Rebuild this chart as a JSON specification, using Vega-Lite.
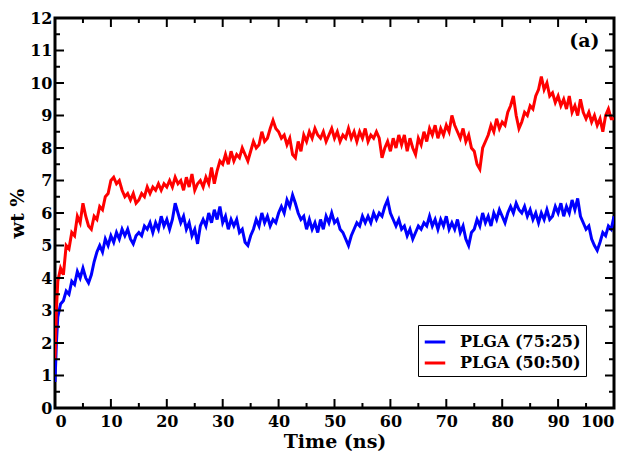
{
  "$schema": "https://vega.github.io/schema/vega-lite/v6.json",
  "width": 559,
  "height": 390,
  "autosize": "none",
  "padding": {"left": 55, "top": 18, "right": 16, "bottom": 45},
  "background": "white",
  "config": {
    "view": {"stroke": "black", "strokeWidth": 3},
    "axis": {
      "domain": false, "grid": false, "ticks": false, "labelOverlap": false,
      "labelFont": "DejaVu Serif", "labelFontWeight": "bold", "labelFontSize": 16, "labelColor": "black",
      "titleFont": "DejaVu Serif", "titleFontWeight": "bold", "titleFontSize": 19, "titleColor": "black"
    },
    "legend": {
      "orient": "none", "legendX": 363, "legendY": 307, "zindex": 2,
      "strokeColor": "black", "fillColor": "white", "padding": 5,
      "labelFont": "DejaVu Serif", "labelFontWeight": "bold", "labelFontSize": 16, "labelColor": "black",
      "symbolType": "stroke", "symbolStrokeWidth": 3, "symbolSize": 420, "rowPadding": 1, "labelOffset": 13
    }
  },
  "datasets": {
    "series": [
      {"t":0,"a":0.8,"b":1.5},{"t":0.25,"a":2.0,"b":3.0},{"t":0.5,"a":2.8,"b":3.9},{"t":1,"a":3.2,"b":4.3},{"t":1.5,"a":3.3,"b":4.1},
      {"t":2,"a":3.6,"b":5.0},{"t":2.5,"a":3.5,"b":4.9},{"t":3,"a":3.9,"b":5.4},{"t":3.5,"a":3.8,"b":5.3},{"t":4,"a":4.2,"b":5.9},
      {"t":4.5,"a":4.0,"b":5.7},{"t":5,"a":4.3,"b":6.3},{"t":5.5,"a":4.0,"b":5.9},{"t":6,"a":3.85,"b":5.6},{"t":6.5,"a":4.1,"b":5.5},
      {"t":7,"a":4.5,"b":5.9},{"t":7.5,"a":4.8,"b":5.8},{"t":8,"a":5.0,"b":6.2},{"t":8.5,"a":4.8,"b":6.1},{"t":9,"a":5.2,"b":6.5},
      {"t":9.5,"a":5.0,"b":6.6},{"t":10,"a":5.3,"b":7.0},{"t":10.5,"a":5.1,"b":7.1},{"t":11,"a":5.4,"b":6.9},{"t":11.5,"a":5.2,"b":7.0},
      {"t":12,"a":5.5,"b":6.7},{"t":12.5,"a":5.3,"b":6.5},{"t":13,"a":5.5,"b":6.6},{"t":13.5,"a":5.2,"b":6.4},{"t":14,"a":5.05,"b":6.6},
      {"t":14.5,"a":5.3,"b":6.3},{"t":15,"a":5.4,"b":6.4},{"t":15.5,"a":5.3,"b":6.6},{"t":16,"a":5.6,"b":6.5},{"t":16.5,"a":5.5,"b":6.8},
      {"t":17,"a":5.7,"b":6.6},{"t":17.5,"a":5.4,"b":6.8},{"t":18,"a":5.7,"b":6.7},{"t":18.5,"a":5.5,"b":6.9},{"t":19,"a":5.9,"b":6.7},
      {"t":19.5,"a":5.6,"b":6.9},{"t":20,"a":5.8,"b":6.8},{"t":20.5,"a":5.5,"b":7.0},{"t":21,"a":5.8,"b":6.8},{"t":21.5,"a":6.3,"b":7.1},
      {"t":22,"a":6.0,"b":6.9},{"t":22.5,"a":5.7,"b":7.0},{"t":23,"a":5.9,"b":6.7},{"t":23.5,"a":5.5,"b":7.1},{"t":24,"a":5.7,"b":6.8},
      {"t":24.5,"a":5.3,"b":7.2},{"t":25,"a":5.5,"b":6.7},{"t":25.5,"a":5.05,"b":6.9},{"t":26,"a":5.6,"b":7.0},{"t":26.5,"a":5.8,"b":6.8},
      {"t":27,"a":5.6,"b":7.1},{"t":27.5,"a":6.0,"b":6.9},{"t":28,"a":5.7,"b":7.4},{"t":28.5,"a":6.1,"b":6.9},{"t":29,"a":5.8,"b":7.3},
      {"t":29.5,"a":6.2,"b":7.6},{"t":30,"a":5.7,"b":7.5},{"t":30.5,"a":5.9,"b":7.8},{"t":31,"a":5.5,"b":7.5},{"t":31.5,"a":5.8,"b":7.9},
      {"t":32,"a":5.6,"b":7.6},{"t":32.5,"a":5.8,"b":7.8},{"t":33,"a":5.4,"b":7.7},{"t":33.5,"a":5.5,"b":8.0},{"t":34,"a":5.1,"b":7.8},
      {"t":34.5,"a":5.0,"b":7.6},{"t":35,"a":5.3,"b":7.9},{"t":35.5,"a":5.5,"b":8.2},{"t":36,"a":5.8,"b":8.0},{"t":36.5,"a":5.6,"b":8.1},
      {"t":37,"a":6.0,"b":8.5},{"t":37.5,"a":5.7,"b":8.2},{"t":38,"a":5.9,"b":8.3},{"t":38.5,"a":5.6,"b":8.6},{"t":39,"a":5.8,"b":8.85},
      {"t":39.5,"a":5.7,"b":8.6},{"t":40,"a":6.0,"b":8.5},{"t":40.5,"a":6.2,"b":8.3},{"t":41,"a":6.0,"b":8.4},{"t":41.5,"a":6.4,"b":8.1},
      {"t":42,"a":6.2,"b":8.3},{"t":42.5,"a":6.55,"b":7.8},{"t":43,"a":6.3,"b":7.7},{"t":43.5,"a":6.0,"b":8.2},{"t":44,"a":5.8,"b":7.9},
      {"t":44.5,"a":5.9,"b":8.4},{"t":45,"a":5.5,"b":8.2},{"t":45.5,"a":5.8,"b":8.5},{"t":46,"a":5.5,"b":8.3},{"t":46.5,"a":5.7,"b":8.6},
      {"t":47,"a":5.4,"b":8.4},{"t":47.5,"a":5.8,"b":8.3},{"t":48,"a":5.5,"b":8.5},{"t":48.5,"a":5.9,"b":8.2},{"t":49,"a":5.7,"b":8.4},
      {"t":49.5,"a":6.0,"b":8.6},{"t":50,"a":5.7,"b":8.3},{"t":50.5,"a":5.8,"b":8.5},{"t":51,"a":5.5,"b":8.2},{"t":51.5,"a":5.4,"b":8.4},
      {"t":52,"a":5.2,"b":8.3},{"t":52.5,"a":5.0,"b":8.6},{"t":53,"a":5.3,"b":8.3},{"t":53.5,"a":5.5,"b":8.5},{"t":54,"a":5.7,"b":8.2},
      {"t":54.5,"a":5.6,"b":8.5},{"t":55,"a":5.9,"b":8.3},{"t":55.5,"a":5.7,"b":8.6},{"t":56,"a":5.9,"b":8.2},{"t":56.5,"a":5.7,"b":8.4},
      {"t":57,"a":6.0,"b":8.3},{"t":57.5,"a":5.8,"b":8.5},{"t":58,"a":6.0,"b":8.3},{"t":58.5,"a":5.9,"b":7.7},{"t":59,"a":6.2,"b":8.0},
      {"t":59.5,"a":6.4,"b":8.2},{"t":60,"a":6.0,"b":7.9},{"t":60.5,"a":5.8,"b":8.3},{"t":61,"a":5.6,"b":8.0},{"t":61.5,"a":5.8,"b":8.4},
      {"t":62,"a":5.5,"b":8.1},{"t":62.5,"a":5.6,"b":8.4},{"t":63,"a":5.3,"b":7.9},{"t":63.5,"a":5.5,"b":8.3},{"t":64,"a":5.2,"b":8.0},
      {"t":64.5,"a":5.4,"b":7.8},{"t":65,"a":5.6,"b":8.3},{"t":65.5,"a":5.5,"b":8.1},{"t":66,"a":5.7,"b":8.5},{"t":66.5,"a":5.6,"b":8.2},
      {"t":67,"a":5.9,"b":8.6},{"t":67.5,"a":5.6,"b":8.4},{"t":68,"a":5.8,"b":8.7},{"t":68.5,"a":5.5,"b":8.3},{"t":69,"a":5.8,"b":8.6},
      {"t":69.5,"a":5.6,"b":8.4},{"t":70,"a":5.9,"b":8.7},{"t":70.5,"a":5.5,"b":8.5},{"t":71,"a":5.7,"b":9.0},{"t":71.5,"a":5.5,"b":8.7},
      {"t":72,"a":5.8,"b":8.5},{"t":72.5,"a":5.4,"b":8.3},{"t":73,"a":5.6,"b":8.6},{"t":73.5,"a":5.2,"b":8.2},{"t":74,"a":5.0,"b":8.4},
      {"t":74.5,"a":5.4,"b":8.0},{"t":75,"a":5.5,"b":7.9},{"t":75.5,"a":5.8,"b":7.5},{"t":76,"a":5.6,"b":7.35},{"t":76.5,"a":6.0,"b":8.0},
      {"t":77,"a":5.7,"b":8.2},{"t":77.5,"a":5.9,"b":8.4},{"t":78,"a":5.6,"b":8.7},{"t":78.5,"a":6.0,"b":8.5},{"t":79,"a":5.8,"b":8.9},
      {"t":79.5,"a":6.1,"b":8.6},{"t":80,"a":5.9,"b":8.8},{"t":80.5,"a":5.7,"b":8.7},{"t":81,"a":6.0,"b":9.1},{"t":81.5,"a":6.2,"b":9.3},
      {"t":82,"a":6.0,"b":9.6},{"t":82.5,"a":6.3,"b":9.0},{"t":83,"a":6.1,"b":8.6},{"t":83.5,"a":6.0,"b":8.8},{"t":84,"a":6.2,"b":9.1},
      {"t":84.5,"a":5.9,"b":9.0},{"t":85,"a":6.1,"b":9.3},{"t":85.5,"a":5.8,"b":9.2},{"t":86,"a":6.0,"b":9.6},{"t":86.5,"a":5.7,"b":9.8},
      {"t":87,"a":6.0,"b":10.2},{"t":87.5,"a":5.8,"b":9.8},{"t":88,"a":6.1,"b":10.0},{"t":88.5,"a":5.8,"b":9.6},{"t":89,"a":5.9,"b":9.7},
      {"t":89.5,"a":6.2,"b":9.4},{"t":90,"a":6.0,"b":9.6},{"t":90.5,"a":6.3,"b":9.3},{"t":91,"a":5.9,"b":9.5},{"t":91.5,"a":6.2,"b":9.2},
      {"t":92,"a":6.0,"b":9.6},{"t":92.5,"a":6.4,"b":9.1},{"t":93,"a":6.1,"b":9.3},{"t":93.5,"a":6.45,"b":9.0},{"t":94,"a":5.9,"b":9.5},
      {"t":94.5,"a":5.7,"b":9.1},{"t":95,"a":5.5,"b":8.9},{"t":95.5,"a":5.6,"b":9.1},{"t":96,"a":5.2,"b":8.8},{"t":96.5,"a":5.0,"b":9.0},
      {"t":97,"a":4.85,"b":8.7},{"t":97.5,"a":5.1,"b":8.9},{"t":98,"a":5.4,"b":8.5},{"t":98.5,"a":5.3,"b":9.0},{"t":99,"a":5.6,"b":9.2},
      {"t":99.5,"a":5.5,"b":8.9},{"t":100,"a":5.9,"b":8.9}
    ],
    "label": [{"t": 97.4, "v": 11.3, "txt": "(a)"}],
    "xticks": [
      {"p":5,"k":"m"},{"p":10,"k":"M"},{"p":15,"k":"m"},{"p":20,"k":"M"},{"p":25,"k":"m"},{"p":30,"k":"M"},{"p":35,"k":"m"},
      {"p":40,"k":"M"},{"p":45,"k":"m"},{"p":50,"k":"M"},{"p":55,"k":"m"},{"p":60,"k":"M"},{"p":65,"k":"m"},{"p":70,"k":"M"},
      {"p":75,"k":"m"},{"p":80,"k":"M"},{"p":85,"k":"m"},{"p":90,"k":"M"},{"p":95,"k":"m"}
    ],
    "yticks": [
      {"p":0.5,"k":"m"},{"p":1,"k":"M"},{"p":1.5,"k":"m"},{"p":2,"k":"M"},{"p":2.5,"k":"m"},{"p":3,"k":"M"},{"p":3.5,"k":"m"},
      {"p":4,"k":"M"},{"p":4.5,"k":"m"},{"p":5,"k":"M"},{"p":5.5,"k":"m"},{"p":6,"k":"M"},{"p":6.5,"k":"m"},{"p":7,"k":"M"},
      {"p":7.5,"k":"m"},{"p":8,"k":"M"},{"p":8.5,"k":"m"},{"p":9,"k":"M"},{"p":9.5,"k":"m"},{"p":10,"k":"M"},{"p":10.5,"k":"m"},
      {"p":11,"k":"M"},{"p":11.5,"k":"m"}
    ]
  },
  "layer": [
    {
      "data": {"name": "series"},
      "transform": [{"fold": ["a", "b"], "as": ["s", "v"]}],
      "mark": {"type": "line", "strokeWidth": 3, "clip": true},
      "encoding": {
        "x": {
          "field": "t", "type": "quantitative",
          "scale": {"domain": [0, 100], "nice": false, "zero": false},
          "axis": {"orient": "bottom", "title": "Time (ns)", "labelOverlap": false, "values": [0,10,20,30,40,50,60,70,80,90,100], "format": "d", "labelPadding": 5, "titlePadding": 3}
        },
        "y": {
          "field": "v", "type": "quantitative",
          "scale": {"domain": [0, 12], "nice": false},
          "axis": {"orient": "left", "title": "wt %", "labelOverlap": false, "values": [0,1,2,3,4,5,6,7,8,9,10,11,12], "format": "d", "labelPadding": 3, "titlePadding": 2}
        },
        "color": {
          "field": "s", "type": "nominal",
          "scale": {"domain": ["a", "b"], "range": ["#0000ff", "#ff0000"]},
          "legend": {"title": null, "labelExpr": "datum.label == 'a' ? 'PLGA (75:25)' : 'PLGA (50:50)'"}
        }
      }
    },
    {
      "data": {"name": "xticks"},
      "mark": {"type": "tick", "orient": "vertical", "color": "black", "thickness": 2, "opacity": 1, "clip": true},
      "encoding": {
        "x": {"field": "p", "type": "quantitative", "axis": {"orient": "bottom", "title": "Time (ns)", "labelOverlap": false, "values": [0,10,20,30,40,50,60,70,80,90,100], "format": "d", "labelPadding": 5, "titlePadding": 3}},
        "y": {"datum": 0, "type": "quantitative", "axis": {"orient": "left", "title": "wt %", "labelOverlap": false, "values": [0,1,2,3,4,5,6,7,8,9,10,11,12], "format": "d", "labelPadding": 3, "titlePadding": 2}},
        "size": {"field": "k", "type": "nominal", "scale": {"domain": ["M", "m"], "range": [18, 10]}, "legend": null}
      }
    },
    {
      "data": {"name": "xticks"},
      "mark": {"type": "tick", "orient": "vertical", "color": "black", "thickness": 2, "opacity": 1, "clip": true},
      "encoding": {
        "x": {"field": "p", "type": "quantitative", "axis": {"orient": "bottom", "title": "Time (ns)", "labelOverlap": false, "values": [0,10,20,30,40,50,60,70,80,90,100], "format": "d", "labelPadding": 5, "titlePadding": 3}},
        "y": {"datum": 12, "type": "quantitative", "axis": {"orient": "left", "title": "wt %", "labelOverlap": false, "values": [0,1,2,3,4,5,6,7,8,9,10,11,12], "format": "d", "labelPadding": 3, "titlePadding": 2}},
        "size": {"field": "k", "type": "nominal", "scale": {"domain": ["M", "m"], "range": [18, 10]}, "legend": null}
      }
    },
    {
      "data": {"name": "yticks"},
      "mark": {"type": "tick", "orient": "horizontal", "color": "black", "thickness": 2, "opacity": 1, "clip": true},
      "encoding": {
        "y": {"field": "p", "type": "quantitative", "axis": {"orient": "left", "title": "wt %", "labelOverlap": false, "values": [0,1,2,3,4,5,6,7,8,9,10,11,12], "format": "d", "labelPadding": 3, "titlePadding": 2}},
        "x": {"datum": 0, "type": "quantitative", "axis": {"orient": "bottom", "title": "Time (ns)", "labelOverlap": false, "values": [0,10,20,30,40,50,60,70,80,90,100], "format": "d", "labelPadding": 5, "titlePadding": 3}},
        "size": {"field": "k", "type": "nominal", "scale": {"domain": ["M", "m"], "range": [18, 10]}, "legend": null}
      }
    },
    {
      "data": {"name": "yticks"},
      "mark": {"type": "tick", "orient": "horizontal", "color": "black", "thickness": 2, "opacity": 1, "clip": true},
      "encoding": {
        "y": {"field": "p", "type": "quantitative", "axis": {"orient": "left", "title": "wt %", "labelOverlap": false, "values": [0,1,2,3,4,5,6,7,8,9,10,11,12], "format": "d", "labelPadding": 3, "titlePadding": 2}},
        "x": {"datum": 100, "type": "quantitative", "axis": {"orient": "bottom", "title": "Time (ns)", "labelOverlap": false, "values": [0,10,20,30,40,50,60,70,80,90,100], "format": "d", "labelPadding": 5, "titlePadding": 3}},
        "size": {"field": "k", "type": "nominal", "scale": {"domain": ["M", "m"], "range": [18, 10]}, "legend": null}
      }
    },
    {
      "data": {"name": "label"},
      "mark": {"type": "text", "align": "right", "baseline": "middle", "font": "DejaVu Serif", "fontWeight": "bold", "fontSize": 19, "color": "black"},
      "encoding": {
        "x": {"field": "t", "type": "quantitative", "axis": {"orient": "bottom", "title": "Time (ns)", "labelOverlap": false, "values": [0,10,20,30,40,50,60,70,80,90,100], "format": "d", "labelPadding": 5, "titlePadding": 3}},
        "y": {"field": "v", "type": "quantitative", "axis": {"orient": "left", "title": "wt %", "labelOverlap": false, "values": [0,1,2,3,4,5,6,7,8,9,10,11,12], "format": "d", "labelPadding": 3, "titlePadding": 2}},
        "text": {"field": "txt"}
      }
    }
  ]
}
